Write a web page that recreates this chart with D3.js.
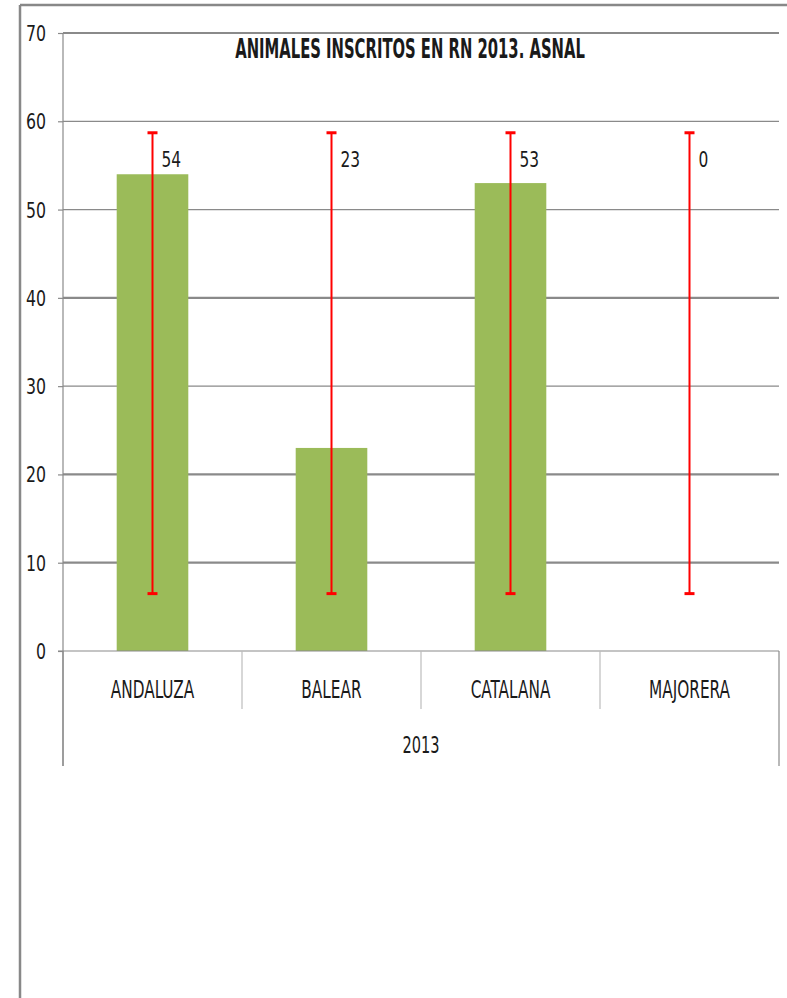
<!DOCTYPE html>
<html><head><meta charset="utf-8">
<script src="https://cdn.jsdelivr.net/npm/d3@7"></script>
<style>
html,body{margin:0;padding:0;background:#fff;}
svg{display:block;}
text{font-family:"DejaVu Sans Condensed","Liberation Sans Narrow",sans-serif;fill:#1a1a1a;}
</style></head>
<body>
<svg id="chart" width="787" height="998"></svg>
<script>
const title = "ANIMALES INSCRITOS EN RN 2013. ASNAL";
const categories = ["ANDALUZA", "BALEAR", "CATALANA", "MAJORERA"];
const groupLabel = "2013";
const values = [54, 23, 53, 0];
const errLow = [6.5, 6.5, 6.5, 6.5];
const errHigh = [58.7, 58.7, 58.7, 58.7];
const yTicks = [0, 10, 20, 30, 40, 50, 60, 70];

(function () {
const svg = d3.select("#chart");
const pLeft = 63, pRight = 779, pTop = 33, pBottom = 651;
const catLineBottom = 709, outerLineBottom = 766;

const y = d3.scaleLinear().domain([0, 70]).range([pBottom, pTop]);
const x = d3.scaleBand().domain(categories).range([pLeft, pRight]).padding(0);
const barW = x.bandwidth() * 0.4;

function stext(sel, tx, ty, sx, fs, anchor, str, bold) {
  return sel.append("text")
    .attr("transform", `translate(${tx},${ty}) scale(${sx},1)`)
    .attr("text-anchor", anchor).attr("font-size", fs)
    .attr("font-weight", bold ? "bold" : null)
    .text(str);
}

// outer frame (top + left)
svg.append("line").attr("x1", 20).attr("x2", 787).attr("y1", 5).attr("y2", 5)
  .attr("stroke", "#888").attr("stroke-width", 2.5);
svg.append("line").attr("x1", 20).attr("x2", 20).attr("y1", 5).attr("y2", 998)
  .attr("stroke", "#888").attr("stroke-width", 2.5);

// gridlines
const thick = new Set([10, 20, 40, 70]);
svg.append("g").selectAll("line").data(yTicks.filter(d => d > 0)).join("line")
  .attr("x1", pLeft).attr("x2", pRight)
  .attr("y1", d => y(d)).attr("y2", d => y(d))
  .attr("stroke", "#8a8a8a").attr("stroke-width", d => thick.has(d) ? 2.2 : 1.2);

// y axis
const yAxis = svg.append("g").attr("transform", `translate(${pLeft},0)`)
  .call(d3.axisLeft(y).tickValues(yTicks).tickSize(5).tickFormat(d3.format("d")));
yAxis.select(".domain").remove();
yAxis.selectAll(".tick line").attr("stroke", "#8a8a8a").attr("stroke-width", 1.2);
yAxis.selectAll(".tick text")
  .attr("x", null).attr("dy", null)
  .attr("transform", "translate(-17,7.5) scale(0.85,1)")
  .attr("text-anchor", "end")
  .attr("font-size", 20.6).attr("fill", "#1a1a1a")
  .attr("font-family", '"DejaVu Sans Condensed","Liberation Sans Narrow",sans-serif');
svg.append("line").attr("x1", pLeft).attr("x2", pLeft).attr("y1", pTop).attr("y2", outerLineBottom)
  .attr("stroke", "#8a8a8a").attr("stroke-width", 1.2);

// bars
svg.append("g").selectAll("rect").data(categories).join("rect")
  .attr("x", (d) => x(d) + (x.bandwidth() - barW) / 2)
  .attr("width", barW)
  .attr("y", (d, i) => y(values[i]))
  .attr("height", (d, i) => y(0) - y(values[i]))
  .attr("fill", "#9bbb59");

// baseline
svg.append("line").attr("x1", pLeft - 5).attr("x2", pRight).attr("y1", y(0)).attr("y2", y(0))
  .attr("stroke", "#8a8a8a").attr("stroke-width", 1.2);

// category dividers
const bounds = categories.map(c => x(c)).concat([pRight]);
svg.append("g").selectAll("line").data(bounds).join("line")
  .attr("x1", d => d).attr("x2", d => d)
  .attr("y1", y(0))
  .attr("y2", (d, i) => (i === 0 || i === bounds.length - 1) ? outerLineBottom : catLineBottom)
  .attr("stroke", (d, i) => (i === 0 || i === bounds.length - 1) ? "#8a8a8a" : "#bdbdbd")
  .attr("stroke-width", 1.2);

// category labels
const cg = svg.append("g");
categories.forEach(c => stext(cg, x(c) + x.bandwidth() / 2, 698, 0.69, 24.7, "middle", c));

// group label
stext(svg, (pLeft + pRight) / 2, 753, 0.69, 23.5, "middle", groupLabel);

// error bars
const eg = svg.append("g").attr("stroke", "#ff0000").attr("stroke-width", 2);
categories.forEach((c, i) => {
  const cx = x(c) + x.bandwidth() / 2;
  eg.append("line").attr("x1", cx).attr("x2", cx).attr("y1", y(errHigh[i])).attr("y2", y(errLow[i]));
  eg.append("line").attr("x1", cx - 5).attr("x2", cx + 5).attr("y1", y(errHigh[i])).attr("y2", y(errHigh[i])).attr("stroke-width", 3);
  eg.append("line").attr("x1", cx - 5).attr("x2", cx + 5).attr("y1", y(errLow[i])).attr("y2", y(errLow[i])).attr("stroke-width", 3);
});

// value labels
const vg = svg.append("g");
categories.forEach((c, i) =>
  stext(vg, x(c) + x.bandwidth() / 2 + 9, y(errHigh[i]) + 34, 0.78, 22, "start", String(values[i])));

// title
stext(svg, 410, 58, 0.633, 26, "middle", title, true).attr("fill", "#000");
})();
</script>
</body></html>
